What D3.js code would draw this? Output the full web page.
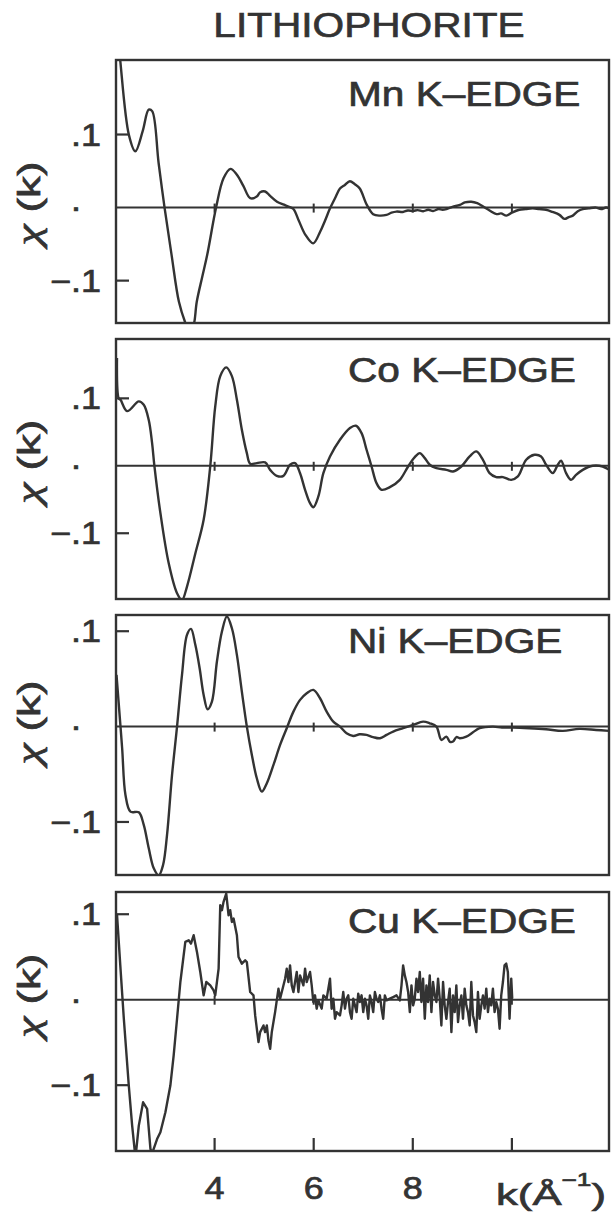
<!DOCTYPE html>
<html>
<head>
<meta charset="utf-8">
<script src="https://cdn.jsdelivr.net/npm/d3@7"></script>
<style>
  html, body { margin: 0; padding: 0; background: #fff; }
  svg { display: block; }
  text { font-family: "Liberation Sans", Arial, Helvetica, sans-serif; fill: #333; stroke: #333; stroke-width: 0.7px; }
</style>
</head>
<body>
<svg id="chart" width="611" height="1213"></svg>
<script>
// ---------------- DATA ----------------
const title = "LITHIOPHORITE";
const panelLabels = ["Mn K–EDGE", "Co K–EDGE", "Ni K–EDGE", "Cu K–EDGE"];
const kRange = [2.01, 11.96];
const kTicks = [4, 6, 8, 10];
const kTickLabels = ["4", "6", "8"];
const yTicks = [0.1, 0, -0.1];
const yTickLabels = [".1", ".", "−.1"];
const yRanges = [[-0.158, 0.202], [-0.1975, 0.188], [-0.1556, 0.117], [-0.177, 0.126]];

// [k, chi(k)]
const mnData = [
 [2.05,0.23],[2.09,0.205],[2.27,0.0995],[2.40,0.077],[2.55,0.105],[2.67,0.134],[2.74,0.132],
 [2.87,0.061],[2.99,0.0],[3.13,-0.064],[3.28,-0.129],[3.41,-0.158],[3.50,-0.172],[3.58,-0.16],
 [3.64,-0.129],[3.75,-0.095],[3.85,-0.065],[4.03,0.0],[4.18,0.040],[4.32,0.053],[4.45,0.045],
 [4.58,0.0297],[4.72,0.0128],[4.85,0.015],[4.92,0.021],[5.02,0.022],[5.12,0.016],[5.26,0.008],
 [5.40,0.004],[5.49,0.0014],[5.59,-0.002],[5.70,-0.018],[5.83,-0.037],[5.99,-0.049],[6.13,-0.033],
 [6.23,-0.0176],[6.33,-0.001],[6.43,0.0128],[6.53,0.026],[6.63,0.031],[6.73,0.036],[6.83,0.032],
 [6.93,0.026],[7.07,0.004],[7.20,-0.009],[7.33,-0.011],[7.47,-0.010],[7.57,-0.007],[7.67,-0.0055],
 [7.80,-0.006],[7.90,-0.004],[8.01,-0.0046],[8.10,-0.0035],[8.21,-0.005],[8.31,-0.003],[8.41,-0.0046],
 [8.52,-0.002],[8.60,-0.003],[8.68,-0.002],[8.80,0.001],[8.95,0.0037],[9.05,0.007],[9.18,0.008],
 [9.30,0.006],[9.42,0.0014],[9.55,-0.004],[9.69,-0.009],[9.78,-0.008],[9.89,-0.011],[10.00,-0.007],
 [10.15,-0.003],[10.28,-0.002],[10.42,-0.001],[10.55,-0.002],[10.69,-0.003],[10.82,-0.006],
 [10.96,-0.010],[11.06,-0.0155],[11.15,-0.013],[11.23,-0.011],[11.33,-0.005],[11.43,-0.002],
 [11.55,-0.001],[11.70,0.0],[11.80,-0.002],[11.90,0.0],[11.97,-0.001]
];

const coData = [
 [2.03,0.16],[2.067,0.0995],[2.10,0.098],[2.235,0.081],[2.47,0.0955],[2.57,0.0906],[2.671,0.068],
 [2.738,0.034],[2.785,0.0],[2.906,-0.070],[3.074,-0.1446],[3.242,-0.189],[3.342,-0.199],[3.443,-0.179],
 [3.611,-0.130],[3.779,-0.080],[3.913,0.0],[4.013,0.088],[4.114,0.133],[4.235,0.146],[4.349,0.133],
 [4.45,0.098],[4.55,0.0535],[4.651,0.0188],[4.718,0.003],[4.852,0.004],[5.02,0.005],[5.121,-0.006],
 [5.255,-0.0149],[5.389,-0.0149],[5.523,0.0015],[5.624,0.004],[5.725,-0.011],[5.826,-0.0356],
 [5.926,-0.0554],[5.993,-0.0614],[6.094,-0.0455],[6.195,-0.011],[6.329,0.0139],[6.53,0.0386],
 [6.732,0.056],[6.852,0.0594],[6.966,0.0485],[7.067,0.0238],[7.168,-0.001],[7.268,-0.0257],
 [7.369,-0.0356],[7.537,-0.0317],[7.738,-0.0208],[7.906,-0.001],[8.04,0.0129],[8.141,0.0188],
 [8.242,0.0114],[8.342,0.0015],[8.477,-0.0035],[8.678,-0.006],[8.812,-0.0084],[8.98,-0.001],
 [9.148,0.0139],[9.282,0.0213],[9.416,0.0089],[9.55,-0.0109],[9.685,-0.0168],[9.819,-0.0168],
 [9.987,-0.0208],[10.121,-0.0158],[10.289,0.0089],[10.456,0.0163],[10.59,0.0139],[10.691,0.0015],
 [10.826,-0.0109],[10.926,0.0015],[10.993,0.0074],[11.094,-0.0109],[11.195,-0.0208],[11.295,-0.0134],
 [11.43,-0.006],[11.631,0.0],[11.832,-0.001],[11.966,-0.006]
];

const niData = [
 [2.02,0.0542],[2.067,0.0227],[2.134,-0.0227],[2.201,-0.0717],[2.302,-0.0892],[2.47,-0.0899],
 [2.57,-0.1031],[2.671,-0.1276],[2.772,-0.1486],[2.872,-0.1560],[2.96,-0.1451],[3.04,-0.1136],
 [3.141,-0.0507],[3.242,0.0],[3.342,0.0542],[3.443,0.0962],[3.523,0.1024],[3.611,0.0857],
 [3.698,0.0612],[3.779,0.0332],[3.859,0.0182],[3.946,0.0262],[4.047,0.0682],[4.148,0.0997],
 [4.248,0.1154],[4.349,0.1031],[4.45,0.0752],[4.55,0.0367],[4.651,0.0],[4.752,-0.0297],
 [4.852,-0.0542],[4.953,-0.0682],[5.054,-0.0594],[5.188,-0.0402],[5.322,-0.0192],[5.456,-0.0017],
 [5.591,0.0157],[5.725,0.028],[5.859,0.035],[5.993,0.0385],[6.128,0.0297],[6.262,0.0157],
 [6.396,0.0052],[6.53,0.0],[6.664,-0.007],[6.799,-0.0098],[6.93,-0.008],[7.067,-0.0087],
 [7.2,-0.011],[7.336,-0.0122],[7.47,-0.0087],[7.604,-0.0052],[7.805,-0.0017],[8.007,0.0017],
 [8.208,0.0052],[8.342,0.0035],[8.477,0.0],[8.577,-0.014],[8.678,-0.0105],[8.75,-0.016],
 [8.812,-0.0157],[8.88,-0.011],[8.946,-0.0122],[9.08,-0.0105],[9.215,-0.006],[9.349,-0.0017],
 [9.617,0.0],[9.8,-0.001],[10.02,-0.001],[10.35,-0.0017],[10.69,-0.0028],[11.027,-0.0045],
 [11.362,-0.0024],[11.698,-0.0035],[11.966,-0.0045]
];

const cuData = [
 [2.03,0.10],[2.101,0.0363],[2.168,-0.0223],[2.268,-0.1004],[2.336,-0.1473],[2.403,-0.185],
 [2.47,-0.1473],[2.557,-0.12],[2.638,-0.1277],[2.705,-0.1746],[2.738,-0.18],[2.839,-0.163],
 [2.906,-0.155],[3.007,-0.1316],[3.107,-0.1004],[3.174,-0.0652],[3.242,-0.0223],[3.309,0.0207],
 [3.409,0.0676],[3.477,0.0695],[3.523,0.0656],[3.577,0.0754],[3.644,0.0559],[3.711,0.0324],
 [3.779,0.0051],[3.832,0.0207],[3.913,0.0168],[3.98,0.0109],[4.013,0.0051],[4.081,0.0363],
 [4.114,0.1105],[4.148,0.1047],[4.181,0.1145],[4.235,0.1242],[4.282,0.0988],[4.315,0.1047],
 [4.349,0.091],[4.383,0.0949],[4.45,0.0754],[4.483,0.05],[4.55,0.0422],[4.617,0.0461],
 [4.651,0.0441],[4.718,0.009],[4.785,0.0051],[4.819,-0.0184],[4.886,-0.0496],[4.919,-0.0379],
 [4.987,-0.0301],[5.02,-0.0379],[5.054,-0.0301],[5.087,-0.0477],[5.121,-0.0574],[5.154,-0.0379],
 [5.221,-0.0145],[5.289,0.0129],[5.322,0.0012],[5.356,0.009],[5.423,0.0246],[5.456,0.0363],
 [5.49,0.0207],[5.523,0.0402],[5.557,0.0168],[5.591,0.009],[5.624,0.0207],[5.658,0.0324],
 [5.691,0.009],[5.725,0.0285],[5.792,0.0168],[5.826,0.0363],[5.859,0.0207],[5.893,0.0266],
 [5.926,0.0324],[5.96,0.0168],[5.993,-0.0027],[6.027,0.0051],[6.06,-0.0105],[6.094,-0.0008],
 [6.161,-0.0105],[6.195,0.0051],[6.262,0.0012],[6.329,0.0246],[6.362,-0.0105],[6.396,0.0012],
 [6.43,-0.0223],[6.463,-0.0145],[6.53,-0.0184],[6.564,-0.0066],[6.597,0.009],[6.631,-0.0105],
 [6.664,0.0012],[6.698,0.0051],[6.732,-0.0145],[6.765,-0.0223],[6.799,0.0012],[6.832,-0.0066],
 [6.866,-0.0145],[6.899,0.007],[6.933,-0.0027],[6.966,0.0051],[7.0,-0.0145],[7.034,0.0012],
 [7.067,-0.0066],[7.101,-0.0223],[7.134,0.0051],[7.168,-0.0027],[7.201,-0.0145],[7.235,0.009],
 [7.268,0.0012],[7.302,-0.0027],[7.336,0.0051],[7.369,-0.0105],[7.403,-0.0223],[7.436,0.0051],
 [7.47,-0.0008],[7.537,0.0012],[7.604,0.0031],[7.671,0.0051],[7.738,-0.0008],[7.772,0.0168],
 [7.805,0.0402],[7.839,0.0285],[7.872,0.0207],[7.906,0.009],[7.94,-0.0145],[7.973,0.0168],
 [8.007,-0.0066],[8.04,0.0012],[8.074,0.0246],[8.107,0.009],[8.141,0.0324],[8.174,-0.0027],
 [8.208,0.0246],[8.242,-0.0223],[8.275,0.0168],[8.309,-0.0027],[8.342,0.0285],[8.376,-0.0145],
 [8.409,0.0207],[8.443,0.0051],[8.477,-0.0027],[8.51,0.0246],[8.544,0.0012],[8.577,-0.0301],
 [8.611,0.0207],[8.644,-0.0066],[8.678,-0.0223],[8.711,-0.0027],[8.745,0.0129],[8.779,-0.0379],
 [8.812,0.0051],[8.846,-0.0145],[8.879,0.0168],[8.913,-0.0262],[8.946,-0.0066],[8.98,0.0051],
 [9.013,-0.0223],[9.047,0.0129],[9.081,-0.0066],[9.114,-0.0145],[9.148,-0.0301],[9.181,0.0207],
 [9.215,-0.0184],[9.248,-0.0262],[9.282,-0.0379],[9.315,0.009],[9.349,-0.0223],[9.383,-0.0066],
 [9.416,0.0051],[9.45,-0.0105],[9.483,0.0129],[9.517,-0.0145],[9.55,0.0012],[9.584,-0.0066],
 [9.617,0.0129],[9.651,-0.0145],[9.685,-0.0027],[9.718,-0.0105],[9.752,-0.034],[9.785,0.0051],
 [9.819,0.0207],[9.852,0.0402],[9.886,0.0422],[9.919,0.0324],[9.953,-0.0223],[9.987,0.0246],
 [10.007,0.0012]
];

const seriesData = [mnData, coData, niData, cuData];

// ---------------- LAYOUT ----------------
const ink = "#333";
const left = 116, right = 609;
const boxes = [[60, 323], [339, 599], [615, 875], [892, 1151]];
const labelBaselines = [106, 382, 653, 933];
const STRETCH = 1.16;

const svg = d3.select("#chart");
svg.append("rect").attr("width", 611).attr("height", 1213).attr("fill", "#fff");

function stretch(sel, f) {
  sel.each(function () {
    const l = this.getComputedTextLength();
    d3.select(this).attr("textLength", l * (f || STRETCH)).attr("lengthAdjust", "spacingAndGlyphs");
  });
}

const x = d3.scaleLinear().domain(kRange).range([left, right]);

// title
svg.append("text").attr("x", 369).attr("y", 37).attr("text-anchor", "middle")
  .attr("font-size", 35).text(title).call(stretch);

seriesData.forEach((data, i) => {
  const [top, bottom] = boxes[i];
  const y = d3.scaleLinear().domain(yRanges[i]).range([bottom, top]);
  const g = svg.append("g");

  const clipId = "clip" + i;
  svg.append("clipPath").attr("id", clipId).append("rect")
    .attr("x", left).attr("y", top).attr("width", right - left).attr("height", bottom - top);

  // zero line
  g.append("line").attr("x1", left).attr("x2", right).attr("y1", y(0)).attr("y2", y(0))
    .attr("stroke", ink).attr("stroke-width", 2);
  // small k ticks on zero line
  g.selectAll(".zt").data(kTicks).enter().append("line")
    .attr("x1", d => x(d)).attr("x2", d => x(d))
    .attr("y1", y(0) - 4).attr("y2", y(0) + 5)
    .attr("stroke", ink).attr("stroke-width", 2);

  // y ticks
  g.selectAll(".yt").data(yTicks.filter(d => d !== 0)).enter().append("line")
    .attr("x1", left).attr("x2", left + 13)
    .attr("y1", d => y(d)).attr("y2", d => y(d))
    .attr("stroke", ink).attr("stroke-width", 2.2);

  // y tick labels
  yTicks.forEach((t, j) => {
    const isZero = t === 0;
    g.append("text")
      .attr("x", isZero ? 81 : 101)
      .attr("y", isZero ? y(t) + 3 : y(t) + 11)
      .attr("text-anchor", "end")
      .attr("font-size", 31)
      .text(yTickLabels[j]).call(stretch);
  });

  // axis title chi(k)
  const yl = g.append("text")
    .attr("transform", `translate(40,${y(0) - 4}) rotate(-90)`)
    .attr("text-anchor", "middle").attr("font-size", 31);
  yl.append("tspan").attr("font-family", "'Liberation Serif', 'DejaVu Serif', serif")
    .attr("font-style", "italic").attr("font-size", 34).text("χ");
  yl.append("tspan").text(" (k)");
  yl.attr("textLength", 84).attr("lengthAdjust", "spacingAndGlyphs");

  // data curve
  const line = d3.line()
    .x(d => x(d[0])).y(d => y(d[1]))
    .curve(i === 3 ? d3.curveLinear : d3.curveCatmullRom.alpha(0.5));
  g.append("path").datum(data)
    .attr("clip-path", `url(#${clipId})`)
    .attr("fill", "none").attr("stroke", ink).attr("stroke-width", 2.4)
    .attr("stroke-linejoin", "round")
    .attr("d", line);

  // frame
  g.append("rect").attr("x", left).attr("y", top)
    .attr("width", right - left).attr("height", bottom - top)
    .attr("fill", "none").attr("stroke", ink).attr("stroke-width", 2.4);

  // panel label
  g.append("text").attr("x", 348).attr("y", labelBaselines[i])
    .attr("font-size", 35).text(panelLabels[i]).call(stretch);

  // bottom axis on last panel
  if (i === seriesData.length - 1) {
    g.selectAll(".bt").data(kTicks).enter().append("line")
      .attr("x1", d => x(d)).attr("x2", d => x(d))
      .attr("y1", bottom).attr("y2", bottom - 13)
      .attr("stroke", ink).attr("stroke-width", 2.2);
    kTickLabels.forEach((lab, j) => {
      g.append("text").attr("x", x(kTicks[j])).attr("y", 1199)
        .attr("text-anchor", "middle").attr("font-size", 31).text(lab).call(stretch);
    });
    const kl = g.append("text").attr("x", 496).attr("y", 1205).attr("font-size", 30);
    kl.append("tspan").text("k(Å");
    kl.append("tspan").attr("font-size", 18).attr("dy", -19).text("−1");
    kl.append("tspan").attr("dy", 19).text(")");
    kl.attr("textLength", 110).attr("lengthAdjust", "spacingAndGlyphs");
  }
});
</script>
</body>
</html>
